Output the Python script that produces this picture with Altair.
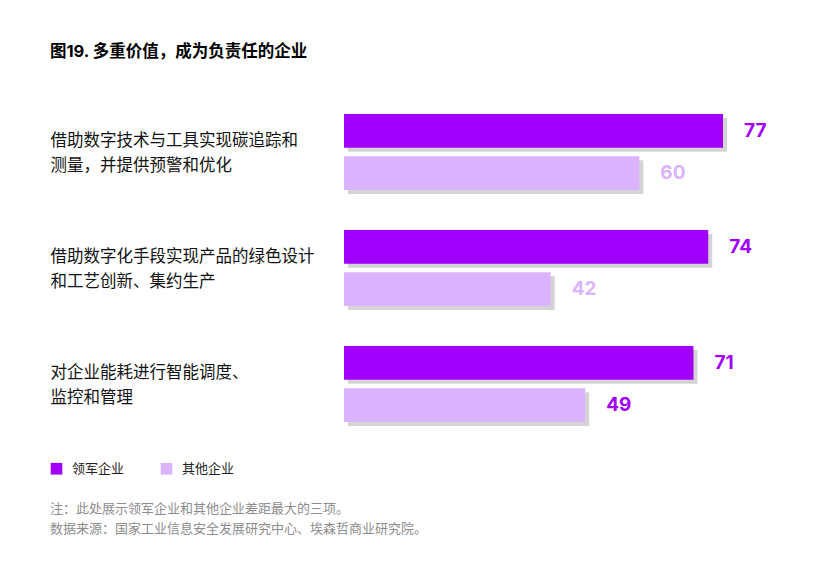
import altair as alt
import pandas as pd

title = "图19. 多重价值，成为负责任的企业"
categories = [
    "借助数字技术与工具实现碳追踪和\n测量，并提供预警和优化",
    "借助数字化手段实现产品的绿色设计\n和工艺创新、集约生产",
    "对企业能耗进行智能调度、\n监控和管理",
]
series = ["领军企业", "其他企业"]
leaders = [77, 74, 71]
others = [60, 42, 49]
series_colors = ["#A100FF", "#DBB3FF"]
leader_label_colors = ["#A100FF", "#A100FF", "#A100FF"]
other_label_colors = ["#D9B3FF", "#D9B3FF", "#A100FF"]
note_lines = [
    "注：此处展示领军企业和其他企业差距最大的三项。",
    "数据来源：国家工业信息安全发展研究中心、埃森哲商业研究院。",
]

rows = []
for i, cat in enumerate(categories):
    rows.append({"category": cat, "series": series[0], "value": leaders[i], "label_color": leader_label_colors[i]})
    rows.append({"category": cat, "series": series[1], "value": others[i], "label_color": other_label_colors[i]})
df = pd.DataFrame(rows)

FONT = "Inter, 'Noto Sans CJK SC', sans-serif"

y_enc = alt.Y(
    "category:N",
    sort=categories,
    scale=alt.Scale(paddingInner=0, paddingOuter=0),
    axis=alt.Axis(
        title=None, domain=False, ticks=False, grid=False,
        labelAlign="left", labelPadding=294, labelLimit=0,
        labelFontSize=16.5, labelColor="#111111", labelFont=FONT,
        labelLineHeight=25, labelBaseline="middle", labelOffset=-11,
        labelExpr="split(datum.value, '\\n')",
    ),
)
x_enc = alt.X("value:Q", scale=alt.Scale(domain=[0, 90]), axis=None)


def yoff(shift):
    return alt.YOffset(
        "series:N", sort=series,
        scale=alt.Scale(paddingInner=0.2, paddingOuter=0.47, range=[shift, 116 + shift]),
    )


shadow = alt.Chart(df).mark_bar(color="#D4D4D4", xOffset=4).encode(
    y=y_enc, x=x_enc, yOffset=yoff(4)
)

base = alt.Chart(df).encode(y=y_enc, x=x_enc, yOffset=yoff(0))

bars = base.mark_bar().encode(
    color=alt.Color(
        "series:N",
        sort=series,
        scale=alt.Scale(domain=series, range=series_colors),
        legend=alt.Legend(
            title=None, orient="none", legendX=-294, legendY=368,
            direction="horizontal", symbolType="square", symbolSize=135,
            symbolStrokeWidth=0, labelFontSize=13, labelColor="#222222",
            labelFont=FONT, labelOffset=9, columnPadding=35,
        ),
    )
)

labels = base.mark_text(
    align="left", baseline="middle", dx=21, fontSize=19, fontWeight="bold", font=FONT
).encode(
    text="value:Q",
    color=alt.Color("label_color:N", scale=None),
)

front = alt.layer(bars, labels)

notes = alt.Chart(pd.DataFrame({"note": ["\n".join(note_lines)]})).mark_text(
    align="left", baseline="top", lineBreak="\n", lineHeight=20,
    fontSize=13, color="#8C8C8C", font=FONT,
).encode(x=alt.value(-294), y=alt.value(409), text="note:N")

chart = alt.layer(shadow, front, notes).resolve_scale(yOffset="independent").properties(
    width=443,
    height=348,
    padding={"left": 336, "top": 86, "right": 18, "bottom": 110},
    autosize=alt.AutoSizeParams(type="none"),
    title=alt.TitleParams(
        title, anchor="start", fontSize=16.5, fontWeight="bold",
        color="#000000", font=FONT, offset=34,
    ),
).configure(font=FONT).configure_view(strokeWidth=0)

chart.save("out.html", embed_options={"renderer": "svg", "actions": False})
